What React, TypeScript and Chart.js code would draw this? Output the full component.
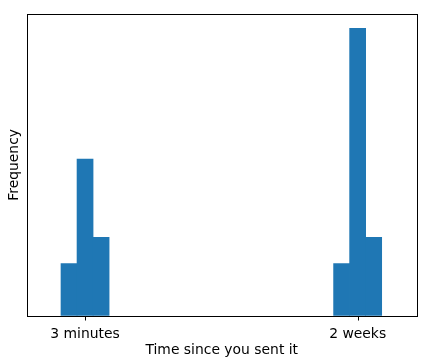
import React, { useEffect, useRef } from "react";
import { Chart, registerables } from "chart.js";

Chart.register(...registerables);

// Histogram bin counts (20 equal-width bins)
const binCounts: number[] = [2, 6, 3, 0, 0, 0, 0, 0, 0, 0, 0, 0, 0, 0, 0, 0, 0, 2, 11, 3];
const tickBins: number[] = [1, 18];
const tickLabels: string[] = ["3 minutes", "2 weeks"];
const xTitle = "Time since you sent it";
const yTitle = "Frequency";

const FONT = "'DejaVu Sans', sans-serif";
const FS = 13.9;

const frame = {
  id: "frame",
  afterDatasetsDraw(chart: any) {
    const { ctx, chartArea } = chart;
    ctx.save();
    ctx.strokeStyle = "#000";
    ctx.lineWidth = 1;
    ctx.strokeRect(
      Math.round(chartArea.left) + 0.5,
      Math.round(chartArea.top) + 0.5,
      Math.round(chartArea.right - chartArea.left),
      Math.round(chartArea.bottom - chartArea.top)
    );
    const xs = chart.scales.x;
    const yb = Math.round(chartArea.bottom) + 0.5;
    ctx.beginPath();
    tickBins.forEach((b) => {
      const px = Math.round(xs.getPixelForValue(b + 0.5)) + 0.5;
      ctx.moveTo(px, yb);
      ctx.lineTo(px, yb + 4);
    });
    ctx.stroke();
    ctx.restore();
  },
};

export default function App() {
  const ref = useRef<HTMLCanvasElement | null>(null);

  useEffect(() => {
    document.body.style.margin = "0";
    const maxCount = Math.max(...binCounts);
    const chart = new Chart(ref.current!, {
      type: "bar",
      data: {
        datasets: [
          {
            data: binCounts.map((c, i) => ({ x: i + 0.5, y: c > 0 ? c : null })),
            backgroundColor: "#1f77b4",
            borderWidth: 0,
            barPercentage: 1,
            categoryPercentage: 1,
          },
        ],
      },
      options: {
        responsive: false,
        animation: false,
        devicePixelRatio: 1,
        layout: { padding: { top: 14, right: 13.5, left: 0, bottom: 0 } },
        plugins: { legend: { display: false }, tooltip: { enabled: false } },
        scales: {
          x: {
            type: "linear",
            min: -2.12,
            max: 22.17,
            offset: false,
            grid: { display: false, tickLength: 4 },
            border: { display: false },
            afterBuildTicks: (scale: any) => {
              scale.ticks = tickBins.map((b) => ({ value: b + 0.5 }));
            },
            afterFit: (scale: any) => {
              scale.height = 44.3;
            },
            ticks: {
              autoSkip: false,
              maxRotation: 0,
              padding: 6,
              color: "#000",
              font: { family: FONT, size: FS },
              callback: (v: any) => {
                const idx = tickBins.findIndex((b) => Math.abs(b + 0.5 - Number(v)) < 1e-6);
                return idx >= 0 ? tickLabels[idx] : "";
              },
            },
            title: {
              display: true,
              text: xTitle,
              color: "#000",
              font: { family: FONT, size: FS },
              padding: { top: 0, bottom: 1 },
            },
          },
          y: {
            min: 0,
            max: maxCount * 1.05,
            grid: { display: false },
            border: { display: false },
            ticks: { display: false },
            afterFit: (scale: any) => {
              scale.width = 27;
            },
            title: {
              display: true,
              text: yTitle,
              color: "#000",
              font: { family: FONT, size: FS },
              padding: { top: 6, bottom: 0 },
            },
          },
        },
      },
      plugins: [frame],
    });
    return () => chart.destroy();
  }, []);

  return (
    <div style={{ position: "absolute", left: 0, top: 0, width: 430, height: 360, background: "#fff" }}>
      <canvas ref={ref} width={430} height={360} />
    </div>
  );
}
